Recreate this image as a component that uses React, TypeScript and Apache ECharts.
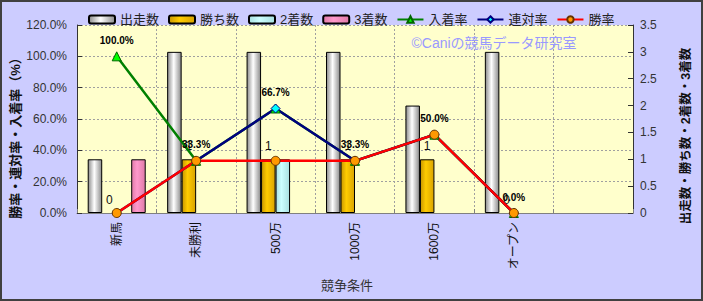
import React, { useEffect, useRef } from "react";
import * as echarts from "echarts";

const categories = ["新馬", "未勝利", "500万", "1000万", "1600万", "オープン", ""];
const starts = [1, 3, 3, 3, 2, 3, null];
const wins = [0, 1, 1, 1, 1, 0, null];
const seconds = [0, 0, 1, 0, 0, 0, null];
const thirds = [1, 0, 0, 0, 0, 0, null];
const placeRate = [100, 33.3, 66.7, 33.3, 50, 0, null];
const quinellaRate = [0, 33.3, 66.7, 33.3, 50, 0, null];
const winRate = [0, 33.3, 33.3, 33.3, 50, 0, null];
const leftTicks = { min: 0, max: 120, interval: 20 };
const rightTicks = { min: 0, max: 3.5, interval: 0.5 };

const FONT = '"Liberation Sans", "Noto Sans CJK JP", sans-serif';

function grad(stops: [number, string][]) {
  return new echarts.graphic.LinearGradient(
    0, 0, 1, 0,
    stops.map(([offset, color]) => ({ offset, color }))
  );
}

// zero-height bars have no visible outline
function barData(values: (number | null)[]) {
  return values.map((v) =>
    v === 0 ? { value: 0, itemStyle: { borderWidth: 0 } } : v
  );
}

export default function App() {
  const ref = useRef<HTMLDivElement>(null);
  useEffect(() => {
    document.body.style.margin = "0";
    const chart = echarts.init(ref.current!, null, { renderer: "svg" });
    const barBase = {
      type: "bar" as const,
      yAxisIndex: 1,
      barWidth: 14.5,
      barGap: "0%",
    };
    chart.setOption({
      animation: false,
      backgroundColor: "#CCCCFF",
      textStyle: { fontFamily: FONT },
      grid: {
        left: 77,
        right: 70,
        top: 25,
        bottom: 88,
        show: true,
        backgroundColor: "#FFFFCC",
        borderWidth: 0,
      },
      legend: {
        left: 83,
        top: 8,
        itemWidth: 26,
        itemHeight: 8,
        itemGap: 9,
        textStyle: { fontSize: 13, color: "#222", fontFamily: FONT },
        data: ["出走数", "勝ち数", "2着数", "3着数", "入着率", "連対率", "勝率"],
      },
      xAxis: {
        type: "category",
        data: categories,
        axisLine: { lineStyle: { color: "#808080", width: 1 } },
        axisTick: { show: true, inside: true, length: 4, interval: 0, lineStyle: { color: "#808080" } },
        axisLabel: { rotate: 90, interval: 0, fontSize: 12, color: "#111", margin: 9, fontFamily: FONT },
        splitLine: { show: true, interval: 0, lineStyle: { color: "#A0A0A0", type: [2, 2], width: 1 } },
      },
      yAxis: [
        {
          type: "value",
          min: leftTicks.min,
          max: leftTicks.max,
          interval: leftTicks.interval,
          position: "left",
          axisLine: { show: true, lineStyle: { color: "#333", width: 1 } },
          axisTick: { show: true, inside: true, length: 5, lineStyle: { color: "#333" } },
          axisLabel: {
            fontSize: 12,
            color: "#333",
            margin: 10,
            formatter: (v: number) => v.toFixed(1) + "%",
          },
          splitLine: { show: true, lineStyle: { color: "#A0A0A0", type: [2, 2], width: 1 } },
        },
        {
          type: "value",
          min: rightTicks.min,
          max: rightTicks.max,
          interval: rightTicks.interval,
          position: "right",
          axisLine: { show: true, lineStyle: { color: "#333", width: 1 } },
          axisTick: { show: true, inside: true, length: 5, lineStyle: { color: "#333" } },
          axisLabel: { fontSize: 12, color: "#333", margin: 7 },
          splitLine: { show: false },
        },
      ],
      graphic: [
        {
          type: "rect",
          shape: { x: 1, y: 1, width: 701, height: 299 },
          style: { fill: "none", stroke: "#404040", lineWidth: 2 },
          silent: true,
          z: 100,
        },
        {
          type: "text",
          x: 15,
          y: 135,
          rotation: Math.PI / 2,
          style: {
            text: "勝率・連対率・入着率（%）",
            fontSize: 13,
            fontWeight: "bold",
            fill: "#111",
            align: "center",
            verticalAlign: "middle",
            fontFamily: FONT,
          },
        },
        {
          type: "text",
          x: 686,
          y: 136,
          rotation: Math.PI / 2,
          style: {
            text: "出走数・勝ち数・2着数・3着数",
            fontSize: 12.5,
            fontWeight: "bold",
            fill: "#111",
            align: "center",
            verticalAlign: "middle",
            fontFamily: FONT,
          },
        },
        {
          type: "text",
          x: 347,
          y: 285,
          style: {
            text: "競争条件",
            fontSize: 13,
            fill: "#333",
            align: "center",
            verticalAlign: "middle",
            fontFamily: FONT,
          },
        },
        {
          type: "text",
          x: 494,
          y: 43,
          style: {
            text: "©Caniの競馬データ研究室",
            fontSize: 14,
            fill: "#9999FF",
            align: "center",
            verticalAlign: "middle",
            fontFamily: FONT,
          },
          z: 50,
        },
      ],
      series: [
        {
          ...barBase,
          name: "出走数",
          data: barData(starts),
          itemStyle: {
            color: grad([[0, "#8C8C8C"], [0.45, "#FFFFFF"], [1, "#8C8C8C"]]),
            borderColor: "#000",
            borderWidth: 1,
          },
        },
        {
          ...barBase,
          name: "勝ち数",
          data: barData(wins),
          itemStyle: {
            color: grad([[0, "#C89600"], [0.4, "#FFCC00"], [1, "#D9A300"]]),
            borderColor: "#000",
            borderWidth: 1,
          },
          label: {
            show: true,
            position: "top",
            distance: 7,
            fontSize: 12,
            color: "#111",
            fontFamily: FONT,
          },
        },
        {
          ...barBase,
          name: "2着数",
          data: barData(seconds),
          itemStyle: {
            color: grad([[0, "#A8E0E0"], [0.4, "#CCFFFF"], [1, "#A8E0E0"]]),
            borderColor: "#000",
            borderWidth: 1,
          },
        },
        {
          ...barBase,
          name: "3着数",
          data: barData(thirds),
          itemStyle: {
            color: grad([[0, "#E07AA8"], [0.4, "#FF99CC"], [1, "#E07AA8"]]),
            borderColor: "#000",
            borderWidth: 1,
          },
        },
        {
          type: "line",
          name: "入着率",
          yAxisIndex: 0,
          data: placeRate,
          symbol: "triangle",
          symbolSize: 9,
          lineStyle: { color: "#008000", width: 2.5 },
          itemStyle: { color: "#00FF00", borderColor: "#006600", borderWidth: 1 },
          label: {
            show: true,
            position: "top",
            distance: 6,
            fontSize: 10,
            fontWeight: "bold",
            color: "#000",
            fontFamily: FONT,
            formatter: (p: any) => Number(p.value).toFixed(1) + "%",
          },
        },
        {
          type: "line",
          name: "連対率",
          yAxisIndex: 0,
          data: quinellaRate,
          symbol: "diamond",
          symbolSize: 9,
          lineStyle: { color: "#000080", width: 2.5 },
          itemStyle: { color: "#00FFFF", borderColor: "#000080", borderWidth: 1 },
        },
        {
          type: "line",
          name: "勝率",
          yAxisIndex: 0,
          data: winRate,
          symbol: "circle",
          symbolSize: 9,
          lineStyle: { color: "#FF0000", width: 2.5 },
          itemStyle: { color: "#FF9900", borderColor: "#663300", borderWidth: 1 },
        },
      ],
    });
    return () => chart.dispose();
  }, []);
  return <div ref={ref} style={{ width: 703, height: 301 }} />;
}
